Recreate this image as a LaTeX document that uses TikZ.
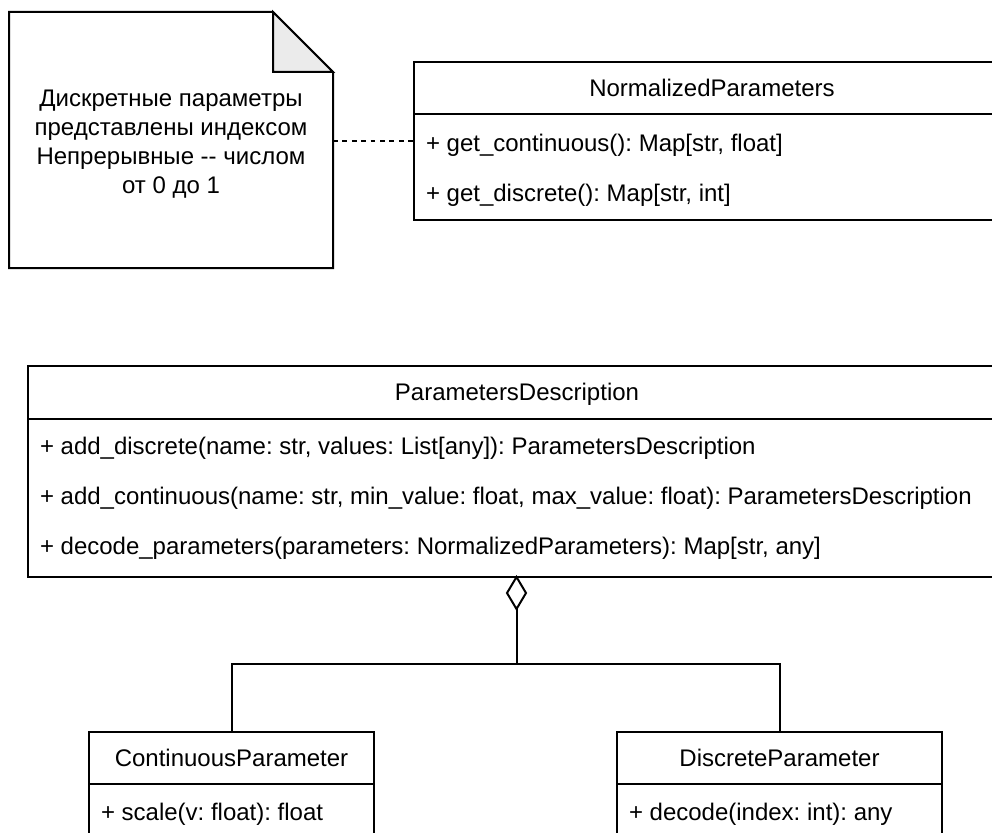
\documentclass[tikz,border=0pt]{standalone}
\usepackage{fontspec}
\setmainfont{Liberation Sans}
\usetikzlibrary{shapes.geometric}
\definecolor{foldgray}{HTML}{EBEBEB}
\frenchspacing
\begin{document}
\begin{tikzpicture}[x=1pt,y=-1pt,
  line width=2pt, line join=miter,
  lbl/.style={inner sep=0pt, outer sep=0pt, font=\fontsize{24}{28.8}\selectfont},
  title/.style={lbl, anchor=base},
  member/.style={lbl, anchor=base west},
  classbox/.style={draw, rectangle, inner sep=0pt, outer sep=0pt, fill=white},
  notearea/.style={rectangle, inner sep=0pt, outer sep=0pt},
  aggdiamond/.style={draw, diamond, fill=white, inner sep=0pt, outer sep=0pt,
    minimum width=19pt, minimum height=32pt},
  dashlink/.style={dash pattern=on 4.7pt off 4.7pt},
]
\useasboundingbox (0,0) rectangle (992,832);
\clip (0,0) rectangle (992,832);

% note with folded corner
\node[notearea, minimum width=324pt, minimum height=256pt] (note) at (171,140) {};
\draw (note.north west) -- ([xshift=-60pt]note.north east)
  -- ([yshift=-60pt]note.north east) -- (note.south east)
  -- (note.south west) -- cycle;
\draw[fill=foldgray] ([xshift=-60pt]note.north east)
  -- ([xshift=-60pt,yshift=-60pt]note.north east)
  -- ([yshift=-60pt]note.north east) -- cycle;
% the base anchor of a multi-line node sits on its last line
\node[lbl, align=center, anchor=base] (notetext) at (171,193)
  {Дискретные параметры\\представлены индексом\\Непрерывные -{}- числом\\от 0 до 1};

% NormalizedParameters
\node[classbox, minimum width=596pt, minimum height=158pt] (np) at (712,141) {};
\draw (np.west |- 0,114) -- (np.east |- 0,114);
\node[title] (nptitle) at (712,96) {NormalizedParameters};
\node[member] (np1) at (426,151) {+ get\_continuous(): Map[str, float]};
\node[member] (np2) at (426,201) {+ get\_discrete(): Map[str, int]};

% ParametersDescription
\node[classbox, minimum width=978pt, minimum height=211pt] (pd) at (517,471.5) {};
\draw (pd.west |- 0,419) -- (pd.east |- 0,419);
\node[title] (pdtitle) at (517,400.5) {ParametersDescription};
\node[member] (pd1) at (40,454) {+ add\_discrete(name: str, values: List[any]): ParametersDescription};
\node[member] (pd2) at (40,504) {+ add\_continuous(name: str, min\_value: float, max\_value: float): ParametersDescription};
\node[member] (pd3) at (40,554) {+ decode\_parameters(parameters: NormalizedParameters): Map[str, any]};

% ContinuousParameter
\node[classbox, minimum width=285pt, minimum height=112pt] (cp) at (231.5,788) {};
\draw (cp.west |- 0,784) -- (cp.east |- 0,784);
\node[title] (cptitle) at (231.5,766) {ContinuousParameter};
\node[member] (cp1) at (101,820) {+ scale(v: float): float};

% DiscreteParameter
\node[classbox, minimum width=325pt, minimum height=112pt] (dp) at (779.5,788) {};
\draw (dp.west |- 0,784) -- (dp.east |- 0,784);
\node[title] (dptitle) at (779.5,766) {DiscreteParameter};
\node[member] (dp1) at (629,820) {+ decode(index: int): any};

% connectors
\draw[dashlink] (note.east |- 0,141) -- (np.west |- 0,141);
\node[aggdiamond, anchor=north] (agg) at (516.5,577) {};
\coordinate (fork) at (516.5,664);
\draw (agg.south) -- (fork);
\draw (cp.north) |- (fork) -| (dp.north);
\end{tikzpicture}
\end{document}
